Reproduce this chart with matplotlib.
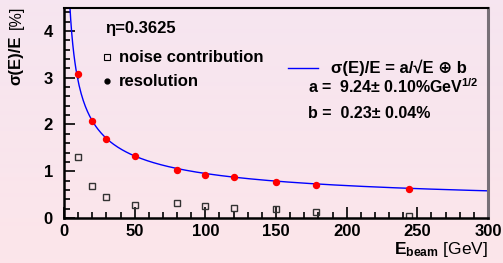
import numpy as np
import matplotlib
matplotlib.use('Agg')
from matplotlib import pyplot as plt
from matplotlib.ticker import MultipleLocator

# beam energies [GeV] and measured resolution [%]
energy = [10, 20, 30, 50, 80, 100, 120, 150, 178, 244]
resolution = [3.07, 2.07, 1.69, 1.33, 1.03, 0.93, 0.87, 0.78, 0.71, 0.63]
res_err = [0.07, 0.02, 0.02, 0.01, 0.01, 0.01, 0.01, 0.01, 0.01, 0.01]
noise = [1.31, 0.68, 0.44, 0.28, 0.32, 0.26, 0.21, 0.19, 0.135, 0.05]

# fit parameters
a_fit = 9.24
b_fit = 0.23

plt.rcParams['font.family'] = ['Liberation Sans', 'DejaVu Sans']
plt.rcParams['mathtext.fontset'] = 'custom'
plt.rcParams['mathtext.rm'] = 'Liberation Sans'
plt.rcParams['mathtext.bf'] = 'Liberation Sans:bold'

fig = plt.figure(figsize=(5.03, 2.63), dpi=100)

# pink gradient background
bg = fig.add_axes([0, 0, 1, 1], zorder=-10)
top = np.array([246, 229, 240]) / 255.
bot = np.array([252, 229, 234]) / 255.
t = np.linspace(0, 1, 64)[:, None]
grad = (top * (1 - t) + bot * t)[:, None, :]
bg.imshow(grad, aspect='auto', extent=[0, 1, 0, 1])
bg.axis('off')

ax = fig.add_axes([0.1272, 0.1711, 0.8430, 0.8000])
ax.set_facecolor('none')

e = np.linspace(4, 300, 400)
ax.plot(e, np.sqrt((a_fit / np.sqrt(e))**2 + b_fit**2), color='#0000ff', lw=1.0)
ax.errorbar(energy, resolution, yerr=res_err, fmt='o', color='red', ms=4.3,
            ecolor='black', elinewidth=1, capsize=0, zorder=5)
ax.plot(energy, noise, 's', mfc='none', mec='#333333', ms=4.6, mew=1.0)

ax.set_xlim(0, 300)
ax.set_ylim(0, 4.5)
ax.xaxis.set_major_locator(MultipleLocator(50))
ax.xaxis.set_minor_locator(MultipleLocator(10))
ax.yaxis.set_major_locator(MultipleLocator(1))
ax.yaxis.set_minor_locator(MultipleLocator(0.2))
ax.tick_params(which='both', direction='in', top=False, right=False, width=1.2)
ax.tick_params(which='major', length=8, labelsize=12)
ax.tick_params(axis='y', which='major', pad=8)
ax.tick_params(axis='x', which='major', pad=4)
ax.tick_params(which='minor', length=4)
for lab in ax.get_xticklabels() + ax.get_yticklabels():
    lab.set_fontweight('bold')

ax.spines['left'].set_linewidth(1.8)
ax.spines['bottom'].set_linewidth(1.8)
ax.spines['top'].set_linewidth(1.5)
ax.spines['right'].set_linewidth(2.2)
ax.spines['right'].set_color('#777077')

# axis titles
fig.text(0.032, 0.677, 'σ(E)/E', rotation=90, ha='center', va='bottom',
         fontsize=12, fontweight='bold')
fig.text(0.032, 0.89, '[%]', rotation=90, ha='center', va='bottom', fontsize=11.5)
fig.text(0.970, 0.036, r'$\mathbf{E_{beam}}$ [GeV]', ha='right', va='baseline',
         fontsize=12.5)

# annotations and legend
ax.text(29, 4.06, 'η=0.3625', fontsize=12, fontweight='bold', va='center')
ax.plot([30.4], [3.44], 's', mfc='none', mec='black', ms=4.5, mew=0.8)
ax.text(38.9, 3.44, 'noise contribution', fontsize=12, fontweight='bold', va='center')
ax.plot([30.4], [2.93], 'o', color='black', ms=3.5)
ax.text(38.9, 2.93, 'resolution', fontsize=12, fontweight='bold', va='center')

ax.plot([158.5, 179.8], [3.21, 3.21], color='#0000ff', lw=1.0)
ax.text(189, 3.21, 'σ(E)/E = a/√E ⊕ b', fontsize=12, fontweight='bold', va='center')
ax.text(172.5, 2.80, 'a =  9.24± 0.10%GeV$^{\\mathbf{1/2}}$', fontsize=11.5,
        fontweight='bold', va='center')
ax.text(172.5, 2.24, 'b =  0.23± 0.04%', fontsize=11.5, fontweight='bold', va='center')

fig.savefig('out.png', dpi=100)
